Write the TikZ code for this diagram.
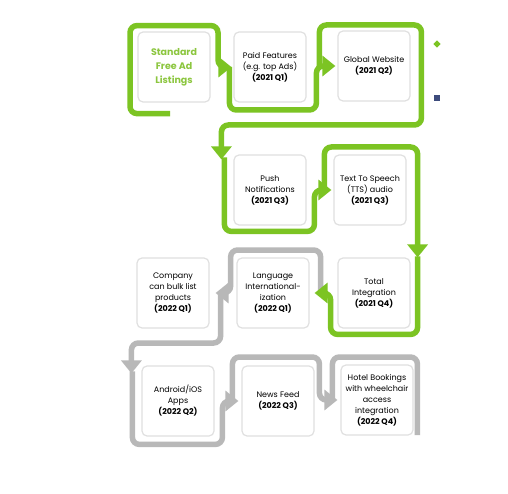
\documentclass[tikz,border=0pt]{standalone}
\usepackage{fontspec}
\setmainfont{Poppins}
\usetikzlibrary{arrows.meta,calc}
\definecolor{grn}{HTML}{7CC423}
\definecolor{gry}{HTML}{B8B8B8}
\definecolor{navy}{HTML}{3D4B7C}
\definecolor{lightgrn}{HTML}{8CC63F}
\tikzset{box/.style={draw=black!12,line width=1.2pt,fill=white,rounded corners=5pt,align=center,minimum width=72pt,minimum height=70pt,inner sep=2pt,font=\fontsize{8}{11}\selectfont},gpath/.style={draw=grn,line width=5.5pt,rounded corners=7pt},ypath/.style={draw=gry,line width=5.5pt,rounded corners=7pt},tip/.style={-{Triangle[length=13pt,width=20pt]}}}

\begin{document}
\begin{tikzpicture}[x=1pt,y=-1pt]
\useasboundingbox[fill=white] (0,0) rectangle (508,494);
\node[box,text=lightgrn,font=\fontsize{9.5}{14}\selectfont\bfseries] (a) at (174,67) {Standard\\Free Ad\\Listings};
\node[box] (b) at (270,67) {Paid Features\\(e.g. top Ads)\\\textbf{(2021 Q1)}};
\node[box] (c) at (374,66) {Global Website\\\textbf{(2021 Q2)}};
\node[box] (d) at (270,190) {Push\\Notifications\\\textbf{(2021 Q3)}};
\node[box] (e) at (370,190) {Text To Speech\\(TTS) audio\\\textbf{(2021 Q3)}};
\node[box] (f) at (173,293) {Company\\can bulk list\\products\\\textbf{(2022 Q1)}};
\node[box] (g) at (273,293) {Language\\International-\\ization\\\textbf{(2022 Q1)}};
\node[box] (h) at (374,293) {Total\\Integration\\\textbf{(2021 Q4)}};
\node[box] (i) at (178,401) {Android/iOS\\Apps\\\textbf{(2022 Q2)}};
\node[box] (j) at (278,401) {News Feed\\\textbf{(2022 Q3)}};
\node[box] (k) at (377,400) {Hotel Bookings\\with wheelchair\\access\\integration\\\textbf{(2022 Q4)}};
% legend marks
\node[fill=grn,rotate=45,minimum size=5pt,inner sep=0pt] (m1) at (437,44) {};
\node[fill=navy,minimum size=6pt,inner sep=0pt] (m2) at (437,98) {};
% gray snake
\draw[ypath,tip] ([xshift=11pt]g.east) -- ++(0,-43) -- ++(-90,0) |- ([xshift=6pt]f.east);
\draw[ypath,tip] ([xshift=11pt]f.east) -- ++(0,50) -| ($(i.north west)+(-10,8)$);
\draw[ypath,tip] ($(i.north west)+(-9,6)$) -- ++(0,73) -- ++(90,0) |- ([xshift=-3pt]j.west);
\draw[ypath,tip] ([xshift=-9pt]j.west) -- ++(0,-44) -- ++(87,0) |- ([xshift=-3pt]k.west);
\draw[ypath] ([xshift=-8pt]k.west) -- ++(0,-43) -- ++(85,0) -- ++(0,78);
% green snake
\draw[gpath,tip] ($(a.south)+(-4,11)$) -- ++(-40,0) -- ++(0,-88) -- ++(88,0) |- ([xshift=-2pt]b.west);
\draw[gpath,tip] ([xshift=-4pt]b.west) -- ++(0,43) -- ++(87,0) |- ([xshift=-2pt]c.west);
\draw[gpath,tip] ([xshift=-18pt]c.west) -- ++(0,-41) -- ++(102,0) -- ++(0,100) -| ($(d.north west)+(-12,5)$);
\draw[gpath,tip] ($(d.north west)+(-9,3)$) -- ++(0,74) -- ++(90,0) |- ([xshift=-2pt]e.west);
\draw[gpath,tip] ([xshift=-9pt]e.west) -- ++(0,-43) -| ($(h.north east)+(7,0)$);
\draw[gpath,tip] ($(h.north east)+(7,-1)$) -- ++(0,78) -- ++(-87,0) |- ([xshift=5pt]g.east);
\end{tikzpicture}
\end{document}
